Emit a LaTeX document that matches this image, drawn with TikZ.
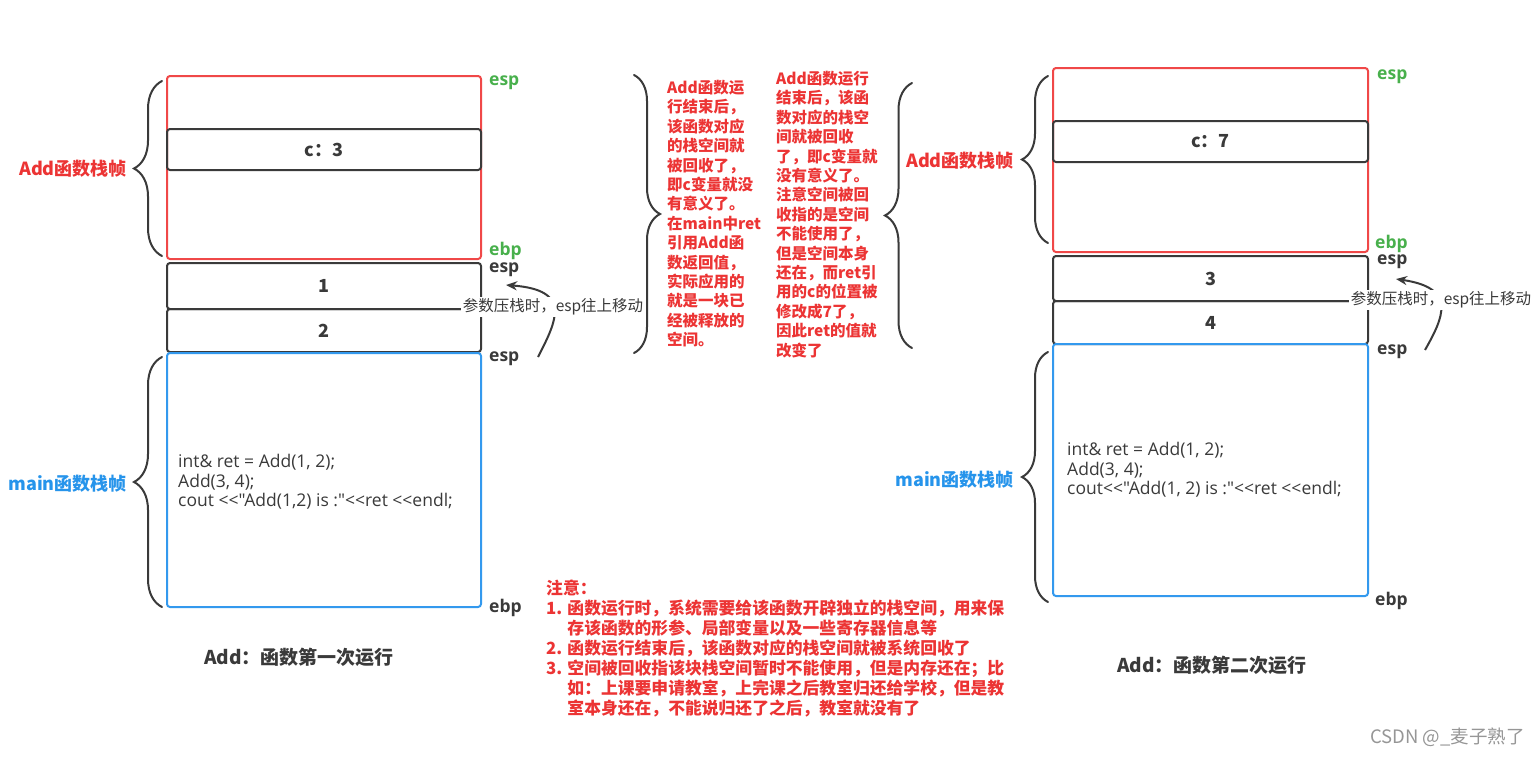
\documentclass[tikz,border=0pt]{standalone}
\usepackage{fontspec}
\setmainfont{Noto Sans CJK SC}
\newfontfamily\lat{Open Sans}
\usetikzlibrary{decorations.pathreplacing,arrows.meta}
\definecolor{boxred}{RGB}{240,72,72}
\definecolor{txtred}{RGB}{236,52,52}
\definecolor{boxblue}{RGB}{51,153,238}
\definecolor{txtblue}{RGB}{38,148,235}
\definecolor{reggreen}{RGB}{72,176,76}
\definecolor{dark}{RGB}{58,58,58}
\definecolor{wmgray}{RGB}{150,150,150}
\tikzset{
  frame/.style={draw, line width=2pt, rounded corners=3pt, inner sep=0pt, minimum width=314pt},
  redframe/.style={frame, draw=boxred},
  blueframe/.style={frame, draw=boxblue},
  cell/.style={frame, draw=dark, text=dark, font=\fontsize{18}{20}\selectfont\bfseries},
  reglabel/.style={anchor=west, inner sep=0pt, font=\lat\fontsize{17.5}{20}\selectfont\bfseries},
  greenreg/.style={reglabel, text=reggreen},
  darkreg/.style={reglabel, text=dark},
  framelabel/.style={anchor=east, inner sep=0pt, font=\fontsize{18}{20}\selectfont\bfseries},
  bracestyle/.style={draw=dark, line width=2pt, line cap=round, decorate, decoration={brace, amplitude=#1, aspect=0.5}},
  codetext/.style={anchor=north west, inner sep=0pt, align=left, text=dark, font=\lat\fontsize{17.5}{19.5}\selectfont},
  pushlabel/.style={fill=white, inner sep=1.5pt, text=dark, font=\fontsize{15.5}{18}\selectfont},
  pusharrow/.style={draw=dark, line width=2pt, -{Stealth[length=11pt,width=9pt]}},
  notecol/.style={anchor=north west, inner sep=0pt, align=left, text=txtred, font=\fontsize{15.5}{19.4}\selectfont\bfseries},
  caption/.style={text=dark, inner sep=0pt, font=\fontsize{19}{22}\selectfont\bfseries},
}
\begin{document}
\begin{tikzpicture}[x=1pt,y=-1pt]
\useasboundingbox[fill=white] (0,0) rectangle (1538,756);

% ---------------- left: first run ----------------
\node[redframe, minimum height=183pt] (addL) at (324,167.5) {};
\node[cell, minimum height=41pt] (cL) at (324,149.5) {c：3};
\node[cell, minimum height=46pt] (p1) at (324,286) {1};
\node[cell, minimum height=43pt] (p2) at (324,330.5) {2};
\node[blueframe, minimum height=254pt] (mainL) at (324,480) {};

\node[greenreg] (espL1) at (489,83) {esp};
\node[greenreg] (ebpL1) at (489,251) {ebp};
\node[darkreg] (espL2) at (489,270) {esp};
\node[darkreg] (espL3) at (489,359) {esp};
\node[darkreg] (ebpL2) at (489,608) {ebp};

\draw[bracestyle=28pt] (162,256) -- (162,81);
\draw[bracestyle=28pt] (162,607) -- (162,357);
\node[framelabel, text=txtred] (lblAddL) at (127,169) {Add函数栈帧};
\node[framelabel, text=txtblue] (lblMainL) at (127,484) {main函数栈帧};

\node[codetext] (codeL) at (178,454) {int\& ret = Add(1, 2);\\Add(3, 4);\\cout <\kern0pt<"Add(1,2) is :"<\kern0pt<ret <\kern0pt<endl;};

\coordinate (asL) at (538,357);
\coordinate (aeL) at (506,285);
\draw[pusharrow] (asL) .. controls (557,320) and (572,290) .. (aeL);
\node[pushlabel] (pushL) at (553,307) {参数压栈时，esp往上移动};

\node[caption] (capL) at (299,657) {Add：函数第一次运行};

% ---------------- middle notes ----------------
\draw[bracestyle=26pt] (634,75) -- (634,353);
\node[notecol] (col1) at (667,80) {Add函数运\\行结束后，\\该函数对应\\的栈空间就\\被回收了，\\即c变量就没\\有意义了。\\在main中ret\\引用Add函\\数返回值，\\实际应用的\\就是一块已\\经被释放的\\空间。};
\node[notecol] (col2) at (776,71) {Add函数运行\\结束后，该函\\数对应的栈空\\间就被回收\\了，即c变量就\\没有意义了。\\注意空间被回\\收指的是空间\\不能使用了，\\但是空间本身\\还在，而ret引\\用的c的位置被\\修改成7了，\\因此ret的值就\\改变了};
\draw[bracestyle=27pt] (912,348) -- (912,83);

\node[anchor=north west, inner sep=0pt, align=left, text=txtred, font=\fontsize{16.8}{20}\selectfont\bfseries] (notes) at (546,580) {注意：\\1. 函数运行时，系统需要给该函数开辟独立的栈空间，用来保\\\phantom{1. }存该函数的形参、局部变量以及一些寄存器信息等\\2. 函数运行结束后，该函数对应的栈空间就被系统回收了\\3. 空间被回收指该块栈空间暂时不能使用，但是内存还在；比\\\phantom{3. }如：上课要申请教室，上完课之后教室归还给学校，但是教\\\phantom{3. }室本身还在，不能说归还了之后，教室就没有了};

% ---------------- right: second run ----------------
\node[redframe, minimum width=315pt, minimum height=184pt] (addR) at (1210.5,160) {};
\node[cell, minimum width=315pt, minimum height=41pt] (cR) at (1210.5,141.5) {c：7};
\node[cell, minimum width=315pt, minimum height=45pt] (p3) at (1210.5,278.5) {3};
\node[cell, minimum width=315pt, minimum height=43pt] (p4) at (1210.5,322.5) {4};
\node[blueframe, minimum width=315pt, minimum height=252pt] (mainR) at (1210.5,470) {};

\node[greenreg] (espR1) at (1377,77) {esp};
\node[greenreg] (ebpR1) at (1375,244) {ebp};
\node[darkreg] (espR2) at (1377,262) {esp};
\node[darkreg] (espR3) at (1377,352) {esp};
\node[darkreg] (ebpR2) at (1375,601) {ebp};

\draw[bracestyle=26pt] (1048,243) -- (1048,76);
\draw[bracestyle=26pt] (1048,602) -- (1048,352);
\node[framelabel, text=txtred] (lblAddR) at (1014,161) {Add函数栈帧};
\node[framelabel, text=txtblue] (lblMainR) at (1014,480) {main函数栈帧};

\node[codetext] (codeR) at (1067,442) {int\& ret = Add(1, 2);\\Add(3, 4);\\cout<\kern0pt<"Add(1, 2) is :"<\kern0pt<ret <\kern0pt<endl;};

\coordinate (asR) at (1425,350);
\coordinate (aeR) at (1396,279);
\draw[pusharrow] (asR) .. controls (1443,318) and (1458,288) .. (aeR);
\node[pushlabel] (pushR) at (1441,300) {参数压栈时，esp往上移动};

\node[caption] (capR) at (1212,665) {Add：函数第二次运行};

\node[anchor=east, inner sep=0pt, text=wmgray, font=\fontsize{18.5}{20}\selectfont] (wm) at (1525,737) {CSDN @\_麦子熟了};
\end{tikzpicture}
\end{document}
